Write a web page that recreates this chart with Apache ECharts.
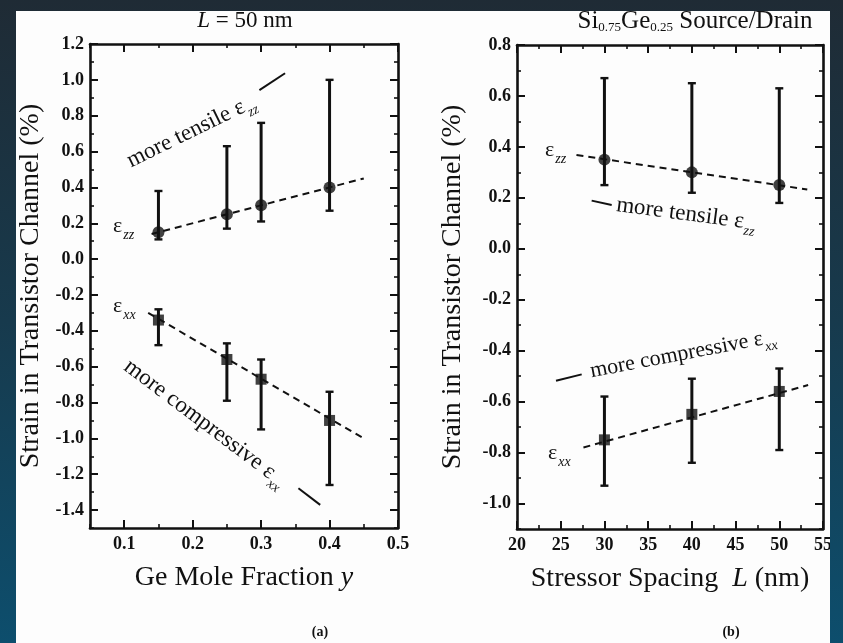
<!DOCTYPE html>
<html>
<head>
<meta charset="utf-8">
<script src="https://cdn.jsdelivr.net/npm/echarts@6/dist/echarts.min.js"></script>
<style>
html,body{margin:0;padding:0;width:843px;height:643px;overflow:hidden;}
body{position:relative;background:linear-gradient(to bottom,#1f2b35 0%,#173a4d 50%,#0d4e6d 100%);}
#paper{position:absolute;left:16px;top:11px;width:814px;height:632px;background:#fdfdfd;}
#chart{position:absolute;left:0;top:0;width:843px;height:643px;}
#edge{position:absolute;left:830px;top:0;width:13px;height:643px;background:linear-gradient(to bottom,#1f2b35 0%,#173a4d 50%,#0d4e6d 100%);}
</style>
</head>
<body>
<div id="paper"></div>
<div id="chart"></div>
<div id="edge"></div>
<script>
// ---------- data : panel (a), L = 50 nm ----------
const geFraction = [0.15, 0.25, 0.30, 0.40];
const ezzA      = [0.15, 0.25, 0.30, 0.40];
const ezzA_low  = [0.11, 0.17, 0.21, 0.27];
const ezzA_high = [0.38, 0.63, 0.76, 1.00];
const exxA      = [-0.34, -0.56, -0.67, -0.90];
const exxA_low  = [-0.48, -0.79, -0.95, -1.26];
const exxA_high = [-0.28, -0.47, -0.56, -0.74];
const ezzA_fitX = [0.14, 0.45];
const ezzA_fitY = [0.14, 0.45];
const exxA_fitX = [0.135, 0.45];
const exxA_fitY = [-0.30, -1.00];

// ---------- data : panel (b), Si0.75Ge0.25 S/D ----------
const spacingNm = [30, 40, 50];
const ezzB      = [0.35, 0.30, 0.25];
const ezzB_low  = [0.25, 0.22, 0.18];
const ezzB_high = [0.67, 0.65, 0.63];
const exxB      = [-0.75, -0.65, -0.56];
const exxB_low  = [-0.93, -0.84, -0.79];
const exxB_high = [-0.58, -0.51, -0.47];
const ezzB_fitX = [26.8, 53.2];
const ezzB_fitY = [0.368, 0.233];
const exxB_fitX = [27.6, 53.3];
const exxB_fitY = [-0.78, -0.535];

// ---------- ticks ----------
const xTicksA = [0.1, 0.2, 0.3, 0.4, 0.5];
const xMinorA = [0.05, 0.15, 0.25, 0.35, 0.45];
const yTicksA = [-1.4, -1.2, -1.0, -0.8, -0.6, -0.4, -0.2, 0.0, 0.2, 0.4, 0.6, 0.8, 1.0, 1.2];
const yMinorA = [-1.5, -1.3, -1.1, -0.9, -0.7, -0.5, -0.3, -0.1, 0.1, 0.3, 0.5, 0.7, 0.9, 1.1];
const xTicksB = [20, 25, 30, 35, 40, 45, 50, 55];
const xMinorB = [22.5, 27.5, 32.5, 37.5, 42.5, 47.5, 52.5];
const yTicksB = [-1.0, -0.8, -0.6, -0.4, -0.2, 0.0, 0.2, 0.4, 0.6, 0.8];
const yMinorB = [-1.1, -0.9, -0.7, -0.5, -0.3, -0.1, 0.1, 0.3, 0.5, 0.7];

// ---------- style ----------
const INK = '#111111';
const TXT = '#111111';
const SERIF = '"Liberation Serif","Times New Roman",Times,serif';
const subRich = { s: { fontSize: 14, fontStyle: 'italic', fontFamily: SERIF, color: TXT, padding: [18, 0, 0, 1], verticalAlign: 'middle' } };

function axisSet(kind, gridIndex, min, max, major, minor, fmt, name, nameGap) {
  const mainPos = kind === 'x' ? 'bottom' : 'left';
  const mirPos = kind === 'x' ? 'top' : 'right';
  const base = { gridIndex: gridIndex, type: 'value', min: min, max: max, splitLine: { show: false }, silent: true };
  const line = { show: true, onZero: false, lineStyle: { color: INK, width: 2.6 } };
  const noLine = { show: false, onZero: false };
  const majTick = { show: true, inside: true, length: 8, customValues: major, lineStyle: { color: INK, width: 2 } };
  const minTick = { show: true, inside: true, length: 4, customValues: minor, lineStyle: { color: INK, width: 1.6 } };
  return [
    Object.assign({}, base, {
      position: mainPos, axisLine: line, axisTick: majTick,
      axisLabel: { show: true, customValues: major, formatter: fmt, margin: kind === 'x' ? 7 : 6,
        color: TXT, fontFamily: SERIF, fontWeight: 'bold', fontSize: 18 },
      name: name, nameLocation: 'middle', nameGap: nameGap, nameRotate: kind === 'y' ? 90 : 0,
      nameTextStyle: { fontFamily: SERIF, fontSize: 28, color: TXT,
        rich: { i: { fontFamily: SERIF, fontSize: 28, fontStyle: 'italic', color: TXT } } }
    }),
    Object.assign({}, base, { position: mainPos, axisLine: noLine, axisTick: minTick, axisLabel: { show: false } }),
    Object.assign({}, base, { position: mirPos, axisLine: line, axisTick: majTick, axisLabel: { show: false } }),
    Object.assign({}, base, { position: mirPos, axisLine: noLine, axisTick: minTick, axisLabel: { show: false } })
  ];
}

function errRender(params, api) {
  const x = api.value(0);
  const pLo = api.coord([x, api.value(1)]);
  const pHi = api.coord([x, api.value(2)]);
  const hw = 4;
  const st = { stroke: INK, lineWidth: 3 };
  const cap = { stroke: INK, lineWidth: 2.4 };
  return { type: 'group', children: [
    { type: 'line', shape: { x1: pLo[0], y1: pLo[1], x2: pHi[0], y2: pHi[1] }, style: st },
    { type: 'line', shape: { x1: pLo[0] - hw, y1: pLo[1], x2: pLo[0] + hw, y2: pLo[1] }, style: cap },
    { type: 'line', shape: { x1: pHi[0] - hw, y1: pHi[1], x2: pHi[0] + hw, y2: pHi[1] }, style: cap }
  ]};
}
function errSeries(xs, lo, hi, ai) {
  return { type: 'custom', xAxisIndex: ai, yAxisIndex: ai, silent: true, z: 3,
    data: xs.map((x, i) => [x, lo[i], hi[i]]), encode: { x: 0, y: [1, 2] }, renderItem: errRender };
}
function markSeries(xs, ys, symbol, size, ai) {
  return { type: 'scatter', xAxisIndex: ai, yAxisIndex: ai, silent: true, z: 4, symbol: symbol, symbolSize: size,
    itemStyle: { color: INK }, data: xs.map((x, i) => [x, ys[i]]) };
}
function fitSeries(xs, ys, ai) {
  return { type: 'line', xAxisIndex: ai, yAxisIndex: ai, silent: true, z: 2, symbol: 'none',
    lineStyle: { color: INK, width: 2, type: [7, 5] }, data: xs.map((x, i) => [x, ys[i]]) };
}

const option = {
  animation: false,
  grid: [
    { left: 90, top: 44, width: 308, height: 484, containLabel: false, outerBoundsMode: 'none' },
    { left: 517, top: 45, width: 306, height: 484, containLabel: false, outerBoundsMode: 'none' }
  ],
  xAxis: [].concat(
    axisSet('x', 0, 0.05, 0.5, xTicksA, xMinorA, v => v.toFixed(1), 'Ge Mole Fraction {i|y}', 36),
    axisSet('x', 1, 20, 55, xTicksB, xMinorB, v => String(v), 'Stressor Spacing  {i|L} (nm)', 36)
  ),
  yAxis: [].concat(
    axisSet('y', 0, -1.5, 1.2, yTicksA, yMinorA, v => v.toFixed(1), 'Strain in Transistor Channel (%)', 45),
    axisSet('y', 1, -1.1, 0.8, yTicksB, yMinorB, v => v.toFixed(1), 'Strain in Transistor Channel (%)', 50)
  ),
  series: [
    fitSeries(ezzA_fitX, ezzA_fitY, 0),
    fitSeries(exxA_fitX, exxA_fitY, 0),
    errSeries(geFraction, ezzA_low, ezzA_high, 0),
    errSeries(geFraction, exxA_low, exxA_high, 0),
    markSeries(geFraction, ezzA, 'circle', 12, 0),
    markSeries(geFraction, exxA, 'rect', 11, 0),
    fitSeries(ezzB_fitX, ezzB_fitY, 4),
    fitSeries(exxB_fitX, exxB_fitY, 4),
    errSeries(spacingNm, ezzB_low, ezzB_high, 4),
    errSeries(spacingNm, exxB_low, exxB_high, 4),
    markSeries(spacingNm, ezzB, 'circle', 12, 4),
    markSeries(spacingNm, exxB, 'rect', 11, 4)
  ]
};

const chart = echarts.init(document.getElementById('chart'), null, { renderer: 'canvas' });
chart.setOption(option);

// ---------- annotations (anchored in data coordinates) ----------
const notes = [
  { g: 0, at: [0.0836, 0.185],  text: 'ε{s|zz}', rot: 0, align: 'left', size: 22 },
  { g: 0, at: [0.0836, -0.261], text: 'ε{s|xx}', rot: 0, align: 'left', size: 22 },
  { g: 0, at: [0.198, 0.713],   text: 'more tensile ε{s|zz}', rot: 26, align: 'center', size: 23 },
  { g: 0, at: [0.218, -0.917],  text: 'more compressive ε{s|xx}', rot: -37, align: 'center', size: 23 },
  { g: 1, at: [23.2, 0.388],    text: 'ε{s|zz}', rot: 0, align: 'left', size: 22 },
  { g: 1, at: [23.55, -0.802],  text: 'ε{s|xx}', rot: 0, align: 'left', size: 22 },
  { g: 1, at: [39.33, 0.136],   text: 'more tensile ε{s|zz}', rot: -7.5, align: 'center', size: 23 },
  { g: 1, at: [39.0, -0.413],   text: 'more compressive ε{s|xx}', rot: 10.8, align: 'center', size: 22 }
];
const strokes = [
  { g: 0, from: [0.2975, 0.943], to: [0.335, 1.037] },
  { g: 0, from: [0.3545, -1.278], to: [0.3863, -1.371] },
  { g: 1, from: [28.54, 0.189], to: [30.83, 0.172] },
  { g: 1, from: [24.46, -0.518], to: [27.40, -0.493] }
];
function px(g, pt) { const ai = g === 0 ? 0 : 4; return chart.convertToPixel({ xAxisIndex: ai, yAxisIndex: ai }, pt); }

const graphics = [];
notes.forEach(n => {
  const p = px(n.g, n.at);
  graphics.push({ type: 'text', x: p[0], y: p[1], rotation: n.rot * Math.PI / 180, silent: true, z: 10,
    style: { text: n.text, fontFamily: SERIF, fontSize: n.size, fill: TXT, align: n.align, verticalAlign: 'middle', rich: subRich } });
});
strokes.forEach(s => {
  const a = px(s.g, s.from), b = px(s.g, s.to);
  graphics.push({ type: 'line', silent: true, z: 10, shape: { x1: a[0], y1: a[1], x2: b[0], y2: b[1] }, style: { stroke: INK, lineWidth: 2 } });
});
// panel titles and captions
graphics.push({ type: 'text', x: 245, y: 21, silent: true, z: 10,
  style: { text: '{i|L} = 50 nm', fontFamily: SERIF, fontSize: 23, fill: TXT, align: 'center', verticalAlign: 'middle',
    rich: { i: { fontFamily: SERIF, fontSize: 23, fontStyle: 'italic', color: TXT } } } });
graphics.push({ type: 'text', x: 695, y: 21, silent: true, z: 10,
  style: { text: 'Si{s|0.75}Ge{s|0.25} Source/Drain', fontFamily: SERIF, fontSize: 25, fill: TXT, align: 'center', verticalAlign: 'middle',
    rich: { s: { fontFamily: SERIF, fontSize: 13, color: TXT, padding: [14, 0, 0, 0], verticalAlign: 'middle' } } } });
graphics.push({ type: 'text', x: 320, y: 632, silent: true, z: 10,
  style: { text: '(a)', fontFamily: SERIF, fontSize: 14, fontWeight: 'bold', fill: TXT, align: 'center', verticalAlign: 'middle' } });
graphics.push({ type: 'text', x: 731, y: 632, silent: true, z: 10,
  style: { text: '(b)', fontFamily: SERIF, fontSize: 14, fontWeight: 'bold', fill: TXT, align: 'center', verticalAlign: 'middle' } });

chart.setOption({ graphic: graphics });
</script>
</body>
</html>
